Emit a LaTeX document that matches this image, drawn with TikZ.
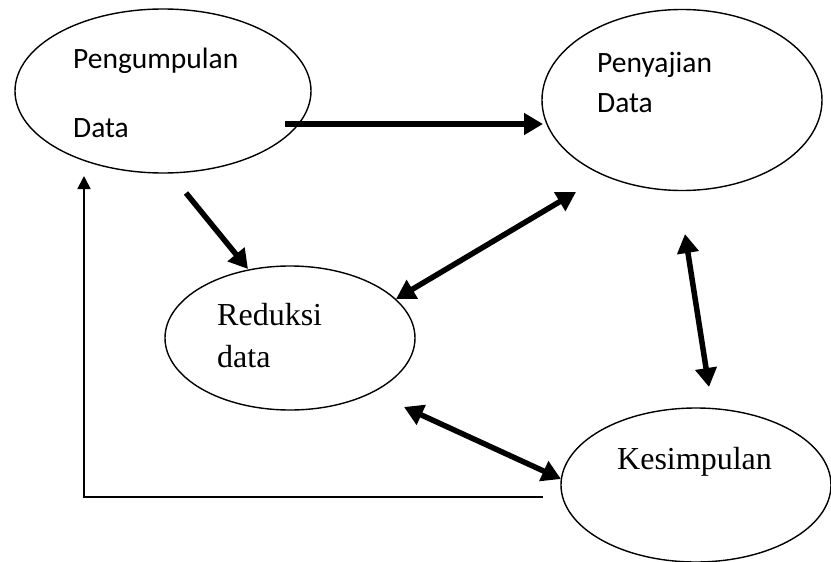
\documentclass[tikz,border=0pt]{standalone}
\usepackage{fontspec}
\setmainfont{Liberation Serif}
\newfontfamily\calfont{Carlito}
\usetikzlibrary{shapes.geometric,arrows.meta}
\begin{document}
\begin{tikzpicture}[x=1pt,y=-1pt,
  oval/.style={draw,ellipse,line width=1.4pt,inner sep=0pt},
  sanstxt/.style={anchor=base west,inner sep=0pt,font=\calfont\fontsize{29.5}{34}\selectfont},
  seriftxt/.style={anchor=base west,inner sep=0pt,font=\fontsize{32}{38}\selectfont},
  thick arrow/.style={line width=5.5pt,-{Triangle[length=19pt,width=21pt]}},
  thick double/.style={line width=5.5pt,{Triangle[length=19pt,width=21pt]}-{Triangle[length=19pt,width=21pt]}},
  thin arrow/.style={line width=1.8pt,-{Triangle[length=13pt,width=13pt]}}]
\useasboundingbox (0,0) rectangle (831,562);
\fill[white] (0,0) rectangle (831,562);
% ellipses
\node[oval,minimum width=296pt,minimum height=164pt] (peng) at (163,91) {};
\node[oval,minimum width=280pt,minimum height=181pt] (peny) at (682,100) {};
\node[oval,minimum width=250pt,minimum height=144pt] (red) at (290,338) {};
\node[oval,minimum width=270pt,minimum height=154pt] (kes) at (696,485) {};
% texts
\node[sanstxt] (t1) at (73,68) {Pengumpulan};
\node[sanstxt] (t2) at (73,137) {Data};
\node[sanstxt] (t3) at (597,72) {Penyajian};
\node[sanstxt] (t4) at (597,112) {Data};
\node[seriftxt] (t5) at (217,325) {Reduksi};
\node[seriftxt] (t6) at (217,367) {data};
\node[seriftxt] (t7) at (617,469) {Kesimpulan};
% connector end points
\coordinate (a1) at (285,124);
\coordinate (a2) at (543,124);
\coordinate (b1) at (186,193);
\coordinate (b2) at (248,269);
\coordinate (c1) at (576,192);
\coordinate (c2) at (396,299);
\coordinate (d1) at (685,234);
\coordinate (d2) at (709,387);
\coordinate (e1) at (404,407);
\coordinate (e2) at (561,479);
\coordinate (f1) at (543,497);
\coordinate (f2) at (84,497);
\coordinate (f3) at (84,176);
% connectors
\draw[thick arrow] (a1) -- (a2);
\draw[thick arrow] (b1) -- (b2);
\draw[thick double] (c1) -- (c2);
\draw[thick double] (d1) -- (d2);
\draw[thick double] (e1) -- (e2);
\draw[thin arrow] (f1) -- (f2) -- (f3);
\end{tikzpicture}
\end{document}
